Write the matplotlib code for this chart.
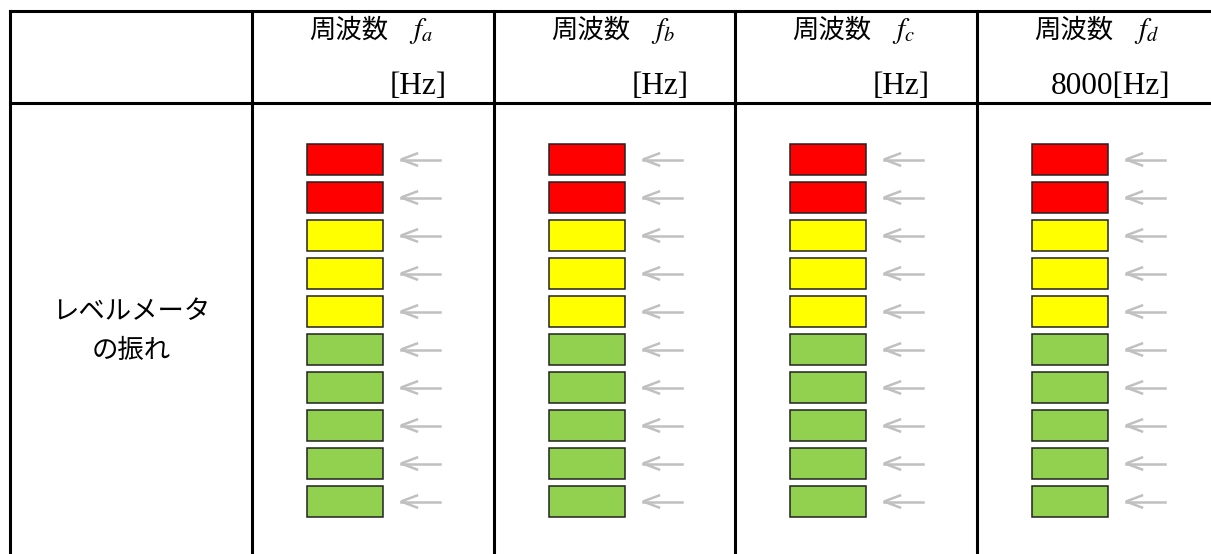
import matplotlib
matplotlib.use("Agg")
import matplotlib.pyplot as plt
from matplotlib.patches import Rectangle

plt.rcParams['font.family'] = ['Liberation Serif', 'Noto Sans CJK JP', 'DejaVu Sans']
plt.rcParams['mathtext.fontset'] = 'stix'

# データ
subs = ['a', 'b', 'c', 'd']
freqs = ['', '', '', '8000']
# 上から順のレベル色
levels = ['#ff0000', '#ff0000',
          '#ffff00', '#ffff00', '#ffff00',
          '#92d050', '#92d050', '#92d050', '#92d050', '#92d050']
row_label = ['レベルメータ', 'の振れ']

W, H = 1211, 554
fig = plt.figure(figsize=(W / 100, H / 100), dpi=100)
ax = fig.add_axes([0, 0, 1, 1])
ax.set_xlim(0, W)
ax.set_ylim(H, 0)
ax.axis('off')

# 表の罫線
col_x = [10, 252, 494, 735, 977]
top, head_bot = 11, 103
lw = 2.2
ax.plot([10, W], [top, top], color='black', lw=lw, solid_capstyle='projecting')
ax.plot([10, W], [head_bot, head_bot], color='black', lw=lw)
for x in col_x:
    ax.plot([x, x], [top, H], color='black', lw=lw, solid_capstyle='projecting')

jp = ['Noto Sans CJK JP', 'DejaVu Sans']

# 見出し
for i, s in enumerate(subs):
    x0 = col_x[i + 1]
    ax.text(x0 + 57, 30, '周波数', family=jp, fontsize=19, ha='left', va='center')
    ax.text(x0 + 157, 31, '$f_{%s}$' % s, fontsize=21, ha='left', va='center')
    if freqs[i]:
        ax.text(1111, 86, freqs[i] + '[Hz]', fontsize=22.5, ha='center', va='center')
    else:
        ax.text(x0 + 195, 86, '[Hz]', fontsize=22.5, ha='right', va='center')

ax.text(131, 312, row_label[0], family=jp, fontsize=19, ha='center', va='center')
ax.text(131, 351, row_label[1], family=jp, fontsize=19, ha='center', va='center')

# レベルメータ
bar_w, bar_h, pitch = 76, 31, 38
for i in range(4):
    bx = col_x[i + 1] + 55
    for k, c in enumerate(levels):
        by = 144 + k * pitch
        ax.add_patch(Rectangle((bx, by), bar_w, bar_h, facecolor=c,
                               edgecolor='#222222', lw=1.1))
        yc = by + bar_h / 2
        ax0 = bx + bar_w + 18
        ax.plot([ax0, ax0 + 39], [yc, yc], color='#c0c0c0', lw=1.8)
        ax.plot([ax0 + 16, ax0, ax0 + 16], [yc - 6, yc, yc + 6],
                color='#c0c0c0', lw=1.8, solid_joinstyle='miter')

fig.savefig('out.png', dpi=100)
